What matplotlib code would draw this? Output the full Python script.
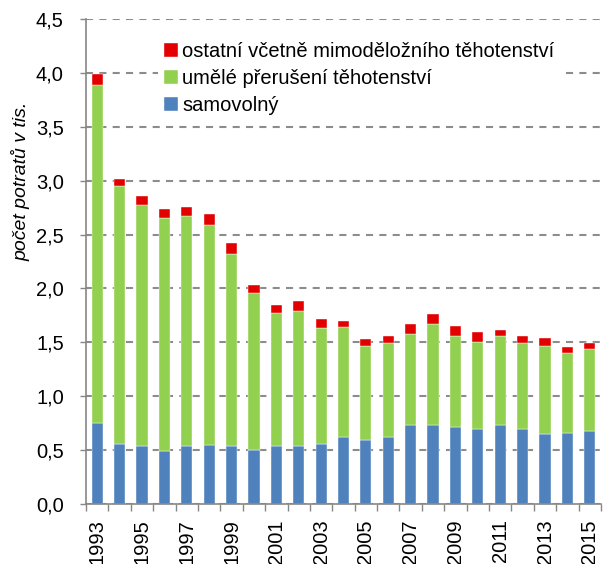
import matplotlib.pyplot as plt
import numpy as np
from matplotlib.ticker import FuncFormatter, FixedLocator

plt.rcParams['font.family'] = ['Liberation Sans', 'DejaVu Sans']

years = np.arange(1993, 2016)
samovolny = [0.75, 0.56, 0.54, 0.49, 0.54, 0.55, 0.54, 0.50, 0.54, 0.54, 0.56, 0.62,
             0.59, 0.62, 0.73, 0.73, 0.71, 0.70, 0.73, 0.70, 0.65, 0.66, 0.68]
umele = [3.14, 2.39, 2.23, 2.16, 2.13, 2.04, 1.78, 1.46, 1.23, 1.25, 1.07, 1.02,
         0.88, 0.87, 0.85, 0.94, 0.85, 0.80, 0.83, 0.79, 0.82, 0.74, 0.76]
ostatni = [0.10, 0.07, 0.09, 0.09, 0.09, 0.10, 0.10, 0.07, 0.08, 0.09, 0.09, 0.06,
           0.06, 0.07, 0.09, 0.09, 0.09, 0.095, 0.05, 0.07, 0.07, 0.06, 0.055]

labels = ['samovolný', 'umělé přerušení těhotenství',
          'ostatní včetně mimoděložního těhotenství']
colors = ['#4F81BD', '#92D050', '#E30000']

fig = plt.figure(figsize=(6.07, 5.64), dpi=100)
ax = fig.add_axes([86 / 607, 1 - 504 / 564, 515 / 607, 485 / 564])

bottom = np.zeros(len(years))
handles = []
for vals, col, lab in zip([samovolny, umele, ostatni], colors, labels):
    b = ax.bar(years, vals, width=0.5, bottom=bottom, color=col, label=lab,
               edgecolor='white', linewidth=0.3, zorder=2)
    handles.append(b)
    bottom += np.array(vals)

ax.set_ylim(0, 4.5)
ax.set_xlim(1992.5, 2015.5)
ax.set_yticks(np.arange(0, 4.51, 0.5))
ax.yaxis.set_major_formatter(FuncFormatter(lambda v, p: f"{v:.1f}".replace('.', ',')))
ax.set_xticks(years[::2])
ax.set_xticklabels([str(y) for y in years[::2]], rotation=90)
ax.xaxis.set_minor_locator(FixedLocator(np.arange(1992.5, 2016, 1)))

ax.yaxis.grid(True, color='#8C8C8C', linestyle=(0, (3.4, 3)), linewidth=1.5)
ax.set_axisbelow(True)

for s in ['top', 'right']:
    ax.spines[s].set_visible(False)
for s in ['left', 'bottom']:
    ax.spines[s].set_color('#868686')
    ax.spines[s].set_linewidth(1.2)

ax.tick_params(axis='y', length=4, width=1, color='#868686', pad=12, labelsize=14.5)
ax.tick_params(axis='x', which='major', length=0, pad=11, labelsize=14.5)
ax.tick_params(axis='x', which='minor', length=5, width=1, color='#868686')

ax.set_ylabel('počet potratů v tis.', fontsize=14, style='italic')
ax.yaxis.set_label_coords(-0.108, 0.665)

leg = ax.legend(handles=handles[::-1], loc='upper left', bbox_to_anchor=(0.12, 0.985),
                frameon=True, fontsize=14.5, handlelength=0.7, handleheight=0.7,
                handletextpad=0.2, labelspacing=0.38, borderpad=0.3)
leg.get_frame().set_edgecolor('none')
leg.get_frame().set_facecolor('white')
leg.get_frame().set_alpha(1)

fig.savefig('out.png', dpi=100)
